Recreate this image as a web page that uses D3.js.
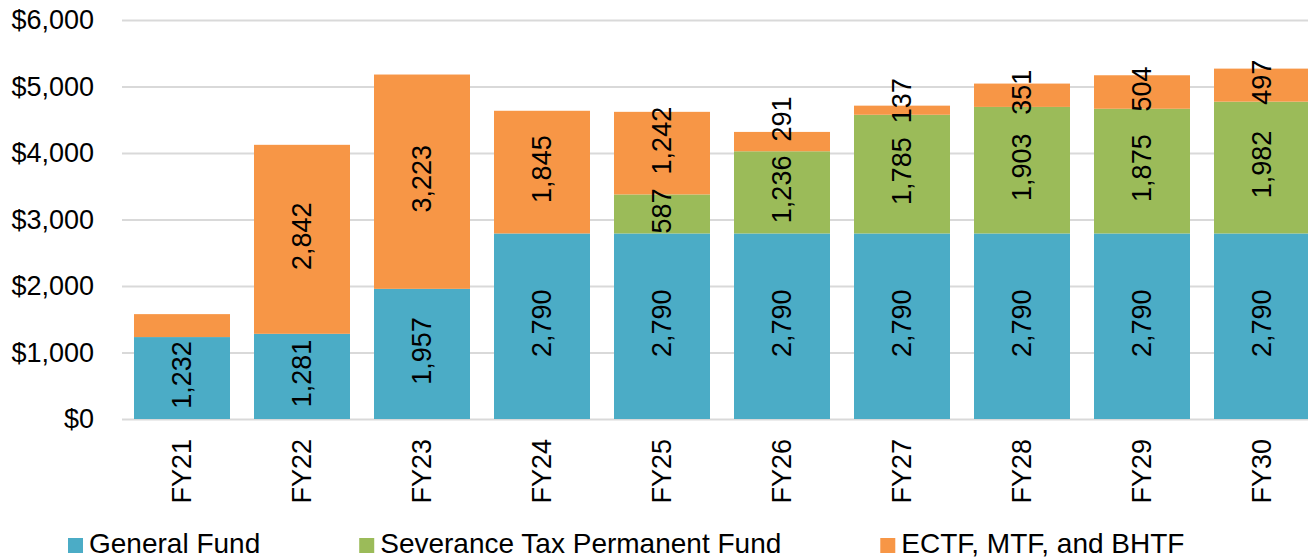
<!DOCTYPE html>
<html>
<head>
<meta charset="utf-8">
<script src="https://cdn.jsdelivr.net/npm/d3@7"></script>
<style>
  body { margin: 0; background: #fff; }
  text { font-family: "Liberation Sans", Arial, sans-serif; fill: #000; }
</style>
</head>
<body>
<div id="chart"></div>
<script>
const width = 1308, height = 558;

// data (millions of dollars)
const years = ["FY21", "FY22", "FY23", "FY24", "FY25", "FY26", "FY27", "FY28", "FY29", "FY30"];
const generalFund = [1232, 1281, 1957, 2790, 2790, 2790, 2790, 2790, 2790, 2790];
const severanceFund = [0, 0, 0, 0, 587, 1236, 1785, 1903, 1875, 1982];
const otherFunds = [345, 2842, 3223, 1845, 1242, 291, 137, 351, 504, 497];
const seriesNames = ["General Fund", "Severance Tax Permanent Fund", "ECTF, MTF, and BHTF"];
const yTicks = [0, 1000, 2000, 3000, 4000, 5000, 6000];
// label not shown in the original for this segment
const hiddenLabels = ["FY21|2"];

const colors = ["#4BACC6", "#9BBB59", "#F79646"];
const fontSize = 27;

const margin = { top: 20, left: 122, bottom: 419 };
const plotRight = 1322;

const svg = d3.select("#chart").append("svg")
    .attr("width", width)
    .attr("height", height);

const x = d3.scaleBand()
    .domain(years)
    .range([margin.left, plotRight])
    .paddingInner(0.2)
    .paddingOuter(0.1);

const y = d3.scaleLinear()
    .domain([0, 6000])
    .range([margin.bottom, margin.top]);

// gridlines + y labels
const yAxis = svg.append("g")
    .attr("transform", `translate(${margin.left},0)`)
    .call(d3.axisLeft(y).tickValues(yTicks).tickFormat(d3.format("$,"))
        .tickSizeInner(-(plotRight - margin.left)).tickSizeOuter(0).tickPadding(28));
yAxis.select(".domain").remove();
yAxis.selectAll("line").attr("stroke", "#d9d9d9").attr("stroke-width", 2);
yAxis.selectAll("text").style("font-size", fontSize + "px").attr("fill", "#000");

// stacked data
const rows = years.map((yr, i) => ({ year: yr, v: [generalFund[i], severanceFund[i], otherFunds[i]] }));
const stack = d3.stack()
    .keys([0, 1, 2])
    .value((d, k) => d.v[k]);
const stacked = stack(rows);

const bars = svg.append("g");
stacked.forEach((layer, k) => {
    bars.selectAll(null)
        .data(layer)
        .enter().append("rect")
        .attr("x", d => x(d.data.year))
        .attr("width", x.bandwidth())
        .attr("y", d => y(d[1]))
        .attr("height", d => y(d[0]) - y(d[1]))
        .attr("fill", colors[k]);
});

// x axis labels
const xAxis = svg.append("g")
    .attr("transform", `translate(0,${margin.bottom})`)
    .call(d3.axisBottom(x).tickSize(0));
xAxis.select(".domain").remove();
xAxis.selectAll("text")
    .style("font-size", fontSize + "px")
    .attr("fill", "#000")
    .attr("text-anchor", "end")
    .attr("transform", "rotate(-90)")
    .attr("x", -20)
    .attr("y", 0)
    .attr("dy", "0.35em");

// data labels
const fmt = d3.format(",");
const labelLayer = svg.append("g");
rows.forEach((row, i) => {
    const cx = x(row.year) + x.bandwidth() / 2;
    const placed = [];
    [0, 1, 2].forEach(k => {
        const seg = stacked[k][i];
        if (row.v[k] <= 0 || hiddenLabels.includes(row.year + "|" + k)) return;
        const cy = (y(seg[0]) + y(seg[1])) / 2 - 3;
        const t = labelLayer.append("text")
            .style("font-size", fontSize + "px")
            .attr("text-anchor", "middle")
            .attr("dominant-baseline", "central")
            .text(fmt(row.v[k]));
        const len = t.node().getComputedTextLength();
        let c = cy;
        // push up if it runs into the label below
        const prev = placed[placed.length - 1];
        const gap = 14;
        if (prev && c + len / 2 > prev.top - gap) {
            c = prev.top - gap - len / 2;
        }
        t.attr("transform", `translate(${cx},${c}) rotate(-90)`);
        placed.push({ top: c - len / 2 });
    });
});

// legend
const legend = svg.append("g").attr("transform", "translate(68,553)");
let lx = 0;
seriesNames.forEach((name, k) => {
    legend.append("rect")
        .attr("x", lx)
        .attr("y", -15)
        .attr("width", 15)
        .attr("height", 15)
        .attr("fill", colors[k]);
    const t = legend.append("text")
        .attr("x", lx + 21)
        .attr("y", 0)
        .style("font-size", "28px")
        .text(name);
    lx += 21 + t.node().getComputedTextLength() + 99;
});
</script>
</body>
</html>
